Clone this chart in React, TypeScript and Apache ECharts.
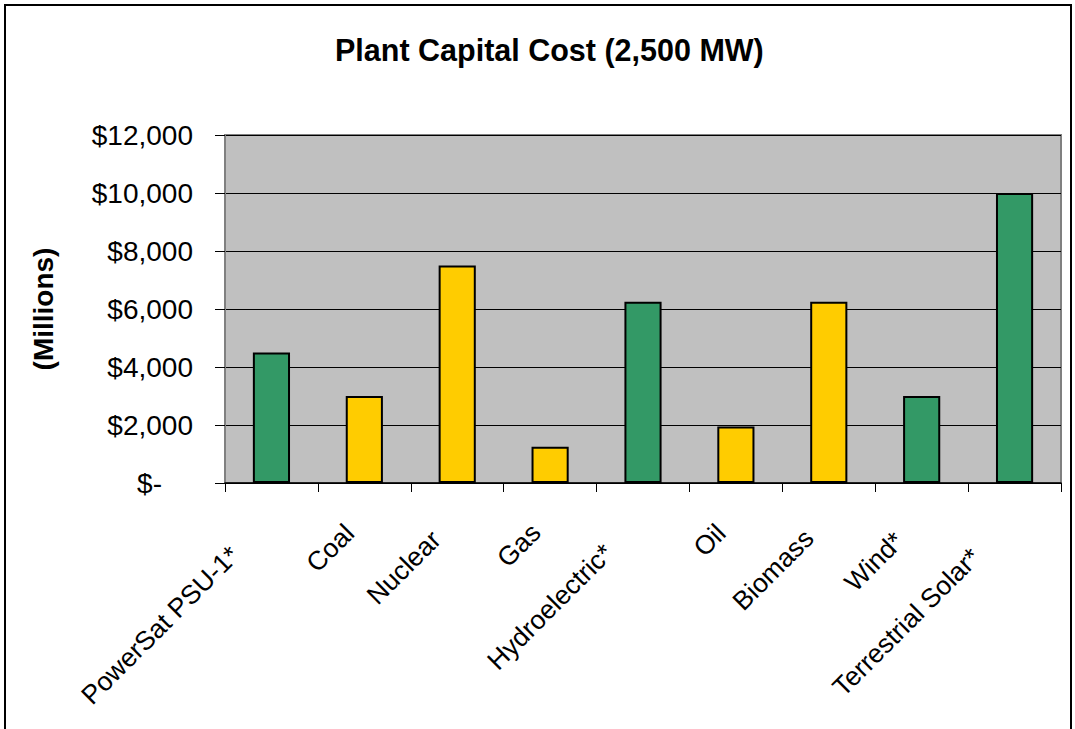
import React, { useEffect, useRef } from "react";
import * as echarts from "echarts";

const titleText = "Plant Capital Cost (2,500 MW)";
const yAxisTitle = "(Millions)";
const categories = [
  "PowerSat PSU-1*",
  "Coal",
  "Nuclear",
  "Gas",
  "Hydroelectric*",
  "Oil",
  "Biomass",
  "Wind*",
  "Terrestrial Solar*",
];
const costs = [4500, 3000, 7500, 1250, 6250, 1950, 6250, 3000, 10000];
const isRenewable = [true, false, false, false, true, false, false, true, true];
const yMin = 0;
const yMax = 12000;
const yStep = 2000;

// style only: how far each rotated label is pulled back from its tick
const labelPull = [52, 21, 30, 20, 49, 21, 28, 32, 55];

const FONT = "'Liberation Sans', Arial, sans-serif";
const GREEN = "#339966";
const YELLOW = "#FFCC00";

export default function App() {
  const ref = useRef<HTMLDivElement>(null);

  useEffect(() => {
    if (!ref.current) return;
    const chart = echarts.init(ref.current, null, { renderer: "svg" });

    const rich: Record<string, any> = {};
    categories.forEach((_, i) => {
      rich["p" + i] = {
        fontSize: 26.5,
        fontFamily: FONT,
        color: "#000",
        padding: [0, labelPull[i], 0, 0],
      };
    });

    chart.setOption({
      animation: false,
      backgroundColor: "#ffffff",
      title: {
        text: titleText,
        left: 330,
        top: 29,
        textStyle: {
          fontFamily: FONT,
          fontSize: 30.5,
          fontWeight: "bold",
          color: "#000",
        },
      },
      graphic: [
        {
          type: "rect",
          z: -10,
          shape: { x: 5, y: 5, width: 1066, height: 760 },
          style: { fill: "none", stroke: "#000", lineWidth: 2 },
        },
      ],
      grid: {
        left: 225,
        top: 135,
        right: 14,
        bottom: 246,
        show: true,
        backgroundColor: "#C0C0C0",
        borderColor: "#808080",
        borderWidth: 2,
      },
      xAxis: {
        type: "category",
        data: categories,
        axisLine: { show: true, lineStyle: { color: "#000", width: 1.5 } },
        axisTick: { show: true, length: 9, lineStyle: { color: "#000", width: 1 } },
        axisLabel: {
          rotate: 45,
          margin: 31,
          interval: 0,
          fontSize: 26.5,
          fontFamily: FONT,
          color: "#000",
          formatter: (v: string) => {
            const i = categories.indexOf(v);
            return "{p" + i + "|" + v + "}";
          },
          rich,
        },
        splitLine: { show: false },
      },
      yAxis: {
        type: "value",
        min: yMin,
        max: yMax,
        interval: yStep,
        name: yAxisTitle,
        nameLocation: "middle",
        nameRotate: 90,
        nameGap: 168,
        nameTextStyle: {
          fontFamily: FONT,
          fontSize: 28,
          fontWeight: "bold",
          color: "#000",
        },
        axisLine: { show: true, lineStyle: { color: "#808080", width: 2 } },
        axisTick: { show: true, length: 10, lineStyle: { color: "#000", width: 1 } },
        axisLabel: {
          margin: 32,
          fontSize: 28,
          fontFamily: FONT,
          color: "#000",
          formatter: (v: number) =>
            v === 0 ? "{z|$-}" : "$" + v.toLocaleString("en-US"),
          rich: {
            z: {
              fontSize: 28,
              fontFamily: FONT,
              color: "#000",
              padding: [0, 31, 0, 0],
            },
          },
        },
        splitLine: { show: true, lineStyle: { color: "#000", width: 1 } },
      },
      series: [
        {
          type: "bar",
          barWidth: "40%",
          data: costs.map((v, i) => ({
            value: v,
            itemStyle: {
              color: isRenewable[i] ? GREEN : YELLOW,
              borderColor: "#000",
              borderWidth: 2,
            },
          })),
        },
      ],
    });

    return () => chart.dispose();
  }, []);

  return (
    <div
      style={{
        position: "fixed",
        left: 0,
        top: 0,
        width: 1075,
        height: 729,
        background: "#fff",
      }}
    >
      <div ref={ref} style={{ width: 1075, height: 729 }} />
    </div>
  );
}
